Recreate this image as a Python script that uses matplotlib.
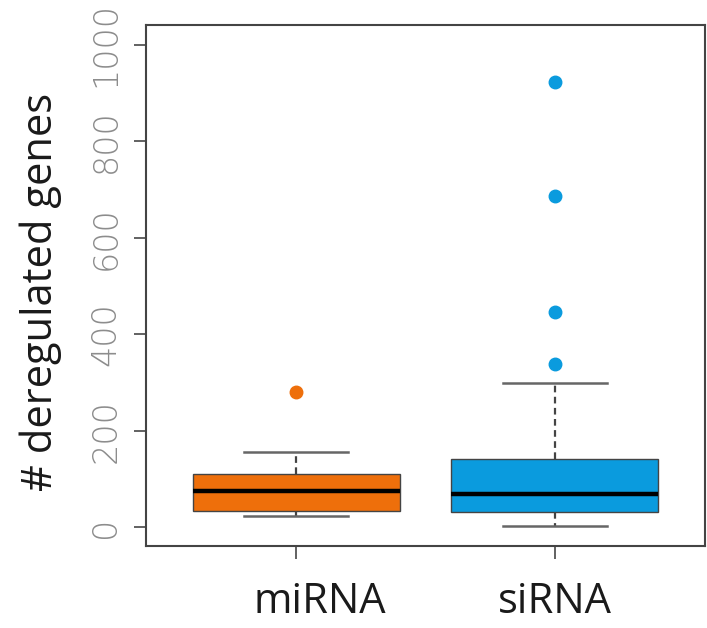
import matplotlib
matplotlib.use("Agg")
import matplotlib.pyplot as plt
import matplotlib.transforms as mtransforms

categories = ["miRNA", "siRNA"]
q1 = [34, 31]
medians = [75, 68]
q3 = [109, 142]
whislo = [23, 3]
whishi = [156, 299]
fliers = [[279], [338, 446, 686, 924]]
colors = ["#EE6F0B", "#0A9BDE"]
yticks = [0, 200, 400, 600, 800, 1000]

fig = plt.figure(figsize=(7.07, 6.28), dpi=100)
ax = fig.add_axes([0.2065, 0.1306, 0.7905, 0.8294])

stats = []
for i, c in enumerate(categories):
    stats.append(dict(label=c, q1=q1[i], med=medians[i], q3=q3[i],
                      whislo=whislo[i], whishi=whishi[i], fliers=fliers[i]))

bp = ax.bxp(stats, positions=[1, 2], widths=0.8, patch_artist=True,
            showfliers=True,
            medianprops=dict(color="black", linewidth=3.2, solid_capstyle="butt"),
            whiskerprops=dict(color="#444444", linewidth=1.6, linestyle=(0, (3, 2))),
            capprops=dict(color="#666666", linewidth=1.8),
            boxprops=dict(edgecolor="#444444", linewidth=1.0))
for patch, col in zip(bp["boxes"], colors):
    patch.set_facecolor(col)
for i, fl in enumerate(bp["fliers"]):
    fl.set_marker("o")
    fl.set_markerfacecolor(colors[i])
    fl.set_markeredgecolor(colors[i])
    fl.set_markersize(9)
for cap in bp["caps"]:
    x = cap.get_xdata()
    m = (x[0] + x[1]) / 2
    cap.set_xdata([m - 0.2, m + 0.2])

ax.set_xlim(0.42, 2.58)
ax.set_ylim(-39.4, 1041)
ax.set_yticks(yticks)
ax.set_yticklabels([str(v) for v in yticks], rotation=90, va="center",
                   fontsize=24, color="#8c8c8c", family="DejaVu Sans", fontweight="light")
ax.set_xticks([1, 2])
ax.set_xticklabels(categories, fontsize=30, color="#1a1a1a", family="Open Sans")
ax.tick_params(axis="y", length=9, width=1.3, color="#555555", pad=8)
ax.tick_params(axis="x", length=9, width=1.3, color="#555555", pad=16)
for s in ax.spines.values():
    s.set_color("#444444")
    s.set_linewidth(1.5)

# shift the first label slightly to the right like in the reference
lbl = ax.get_xticklabels()[0]
lbl.set_transform(lbl.get_transform() + mtransforms.ScaledTranslation(0.24, 0, fig.dpi_scale_trans))

ax.set_ylabel("# deregulated genes", fontsize=30, color="#1a1a1a", family="Open Sans")
ax.yaxis.set_label_coords(-0.15, 0.488)

fig.savefig("out.png", dpi=100)
